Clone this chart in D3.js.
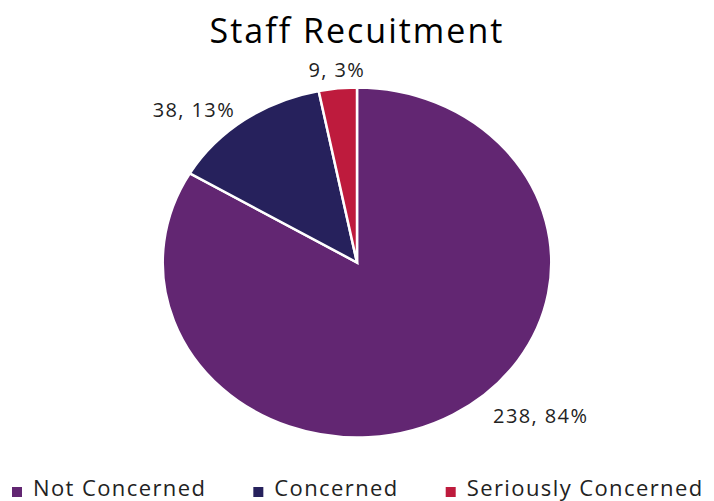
<!DOCTYPE html>
<html>
<head>
<meta charset="utf-8">
<script src="https://cdn.jsdelivr.net/npm/d3@7"></script>
<style>
  body { margin: 0; background: #fff; }
  text { font-family: "Open Sans", sans-serif; fill: #222; }
</style>
</head>
<body>
<div id="chart"></div>
<script>
// data
var categories = ['Not Concerned', 'Concerned', 'Seriously Concerned'];
var counts = [238, 38, 9];
var percents = ['84%', '13%', '3%'];
var colors = ['#622672', '#26215c', '#be1b3d'];

// label placement tweaks (angle nudge in degrees, distance from centre)
var labelNudge = [-17.4, -8.5, 0.3];
var labelDist = [226, 212, 193];

var width = 714,
    height = 501,
    cx = 357,
    cy = 262.5,
    radius = 175,
    stretch = 1.11,
    title = 'Staff Recuitment';

var svg = d3.select('#chart')
    .append('svg')
    .attr('width', width)
    .attr('height', height);

svg.append('text')
    .attr('x', cx)
    .attr('y', 43)
    .style('text-anchor', 'middle')
    .style('font-size', '34px')
    .style('letter-spacing', '2px')
    .style('fill', '#000')
    .text(title);

var pie = d3.pie().sort(null).value(function(d) { return d; });
var arcs = pie(counts);

var arc = d3.arc().innerRadius(0).outerRadius(radius);

var g = svg.append('g')
    .attr('transform', 'translate(' + cx + ',' + cy + ') scale(' + stretch + ',1)');

g.selectAll('path')
    .data(arcs)
    .enter().append('path')
    .attr('d', arc)
    .attr('fill', function(d, i) { return colors[i]; })
    .attr('stroke', '#fff')
    .attr('stroke-width', 2.5)
    .attr('stroke-linejoin', 'miter')
    .attr('vector-effect', 'non-scaling-stroke');

// data labels
svg.selectAll('.label')
    .data(arcs)
    .enter().append('text')
    .attr('class', 'label')
    .attr('x', function(d, i) {
        var a = (d.startAngle + d.endAngle) / 2 + labelNudge[i] * Math.PI / 180;
        return cx + Math.sin(a) * labelDist[i] * stretch;
    })
    .attr('y', function(d, i) {
        var a = (d.startAngle + d.endAngle) / 2 + labelNudge[i] * Math.PI / 180;
        return cy - Math.cos(a) * labelDist[i];
    })
    .attr('dy', '0.35em')
    .style('text-anchor', 'middle')
    .style('font-size', '20px')
    .style('letter-spacing', '1.4px')
    .text(function(d, i) { return counts[i] + ', ' + percents[i]; });

// legend
var legend = svg.append('g').attr('class', 'legend');
var lx = 12;
categories.forEach(function(c, i) {
    legend.append('rect')
        .attr('x', lx)
        .attr('y', 487)
        .attr('width', 10)
        .attr('height', 10)
        .attr('fill', colors[i]);
    var t = legend.append('text')
        .attr('x', lx + 21)
        .attr('y', 496)
        .style('font-size', '22px')
        .style('letter-spacing', '1.4px')
        .text(c);
    lx += 21 + t.node().getComputedTextLength() + 47;
});
</script>
</body>
</html>
